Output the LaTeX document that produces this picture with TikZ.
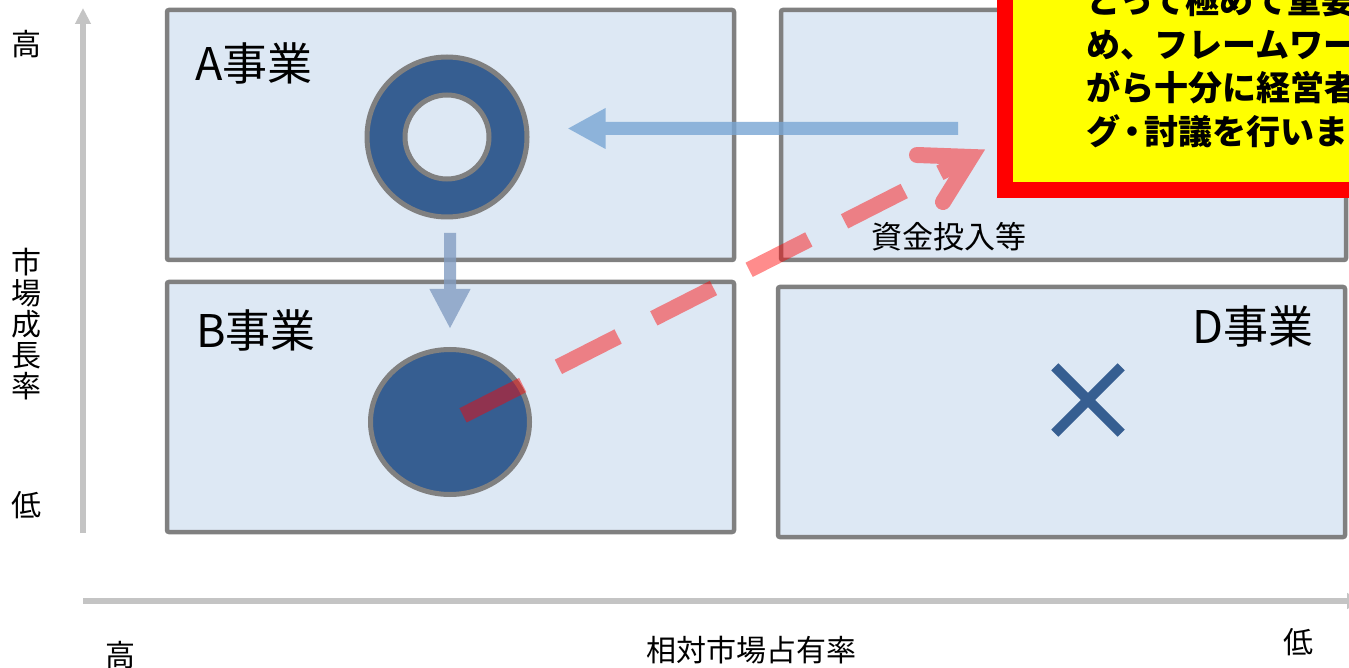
\documentclass[tikz,border=0pt]{standalone}
\usepackage{fontspec}
\newfontfamily\jp{Noto Sans CJK JP}
\usetikzlibrary{arrows.meta,shapes.geometric}
\definecolor{boxfill}{RGB}{221,232,244}
\definecolor{boxline}{RGB}{128,128,128}
\definecolor{dblue}{RGB}{54,94,145}
\definecolor{harrow}{RGB}{121,166,212}
\definecolor{varrow}{RGB}{131,157,194}
\definecolor{axisgray}{RGB}{196,196,196}
\definecolor{noteyellow}{RGB}{255,255,0}
\definecolor{notered}{RGB}{255,0,0}
\definecolor{dashred}{RGB}{255,0,0}
\tikzset{
  quad/.style={draw=boxline, fill=boxfill, line width=4.5pt, rounded corners=2pt, inner sep=0pt, minimum width=567pt, minimum height=250pt},
  lbl/.style={font=\jp\fontsize{45}{50}\selectfont, inner sep=0pt},
  smalllbl/.style={font=\jp\fontsize{31}{34}\selectfont, inner sep=0pt},
  axlbl/.style={font=\jp\fontsize{30}{31}\selectfont, inner sep=0pt},
  axisline/.style={draw=axisgray, line width=5.5pt, -{Triangle[length=16pt,width=15pt]}},
  harr/.style={draw=harrow, line width=13pt, -{Triangle[length=38pt,width=38pt]}},
  varr/.style={draw=varrow, line width=12pt, -{Triangle[length=40pt,width=38pt]}},
  redline/.style={draw=dashred, line width=16pt},
}
\begin{document}
\begin{tikzpicture}[x=1pt,y=-1pt]
\useasboundingbox (0,0) rectangle (1349,668);
\clip (0,0) rectangle (1349,668);
\fill[white] (0,0) rectangle (1349,668);

% quadrants
\node[quad] (A) at (450.5,135) {};
\node[quad] (B) at (450.5,407) {};
\node[quad, minimum width=565pt] (C) at (1063.5,135) {};
\node[quad] (D) at (1061.5,412) {};

% labels
\node[lbl] (Alabel) at (254,63) {A事業};
\node[lbl] (Blabel) at (256,330) {B事業};
\node[lbl] (Dlabel) at (1253,326) {D事業};
\node[smalllbl] (fund) at (949,237) {資金投入等};

% symbols
\node[circle, draw=boxline, line width=5pt, fill=dblue, minimum size=160pt, inner sep=0pt] (ringA) at (447,137) {};
\node[circle, draw=boxline, line width=5pt, fill=boxfill, minimum size=84pt, inner sep=0pt] (ringAin) at (447,137) {};
\node[ellipse, draw=boxline, line width=5pt, fill=dblue, minimum width=159pt, minimum height=145pt, inner sep=0pt] (circB) at (450,422) {};
\node[inner sep=0pt, minimum size=66pt] (xmark) at (1088,400) {};
\draw[dblue, line width=10pt] (xmark.north west) -- (xmark.south east);
\draw[dblue, line width=10pt] (xmark.south west) -- (xmark.north east);

% blue arrows
\coordinate (hs) at (958,128.5);
\begin{scope}[transparency group, opacity=0.8]
\draw[harr, shorten >=38pt] (hs) -- (hs -| ringA.east);
\end{scope}
\coordinate (vs) at (450,233);
\begin{scope}[transparency group, opacity=0.8]
\draw[varr, shorten >=18pt] (vs) -- (vs |- circB.north);
\end{scope}

% red dashed arrow
\coordinate (rtip) at (971,157);
\coordinate (rarm1) at (917,155);
\coordinate (rarm2) at (943,202);
\begin{scope}[transparency group, opacity=0.45]
\draw[redline, dash pattern=on 67pt off 40pt, dash phase=92.4pt] (circB.center) -- (rtip);
\draw[redline, line cap=round, line join=miter, miter limit=10] (rarm1) -- (rtip) -- (rarm2);
\end{scope}

% axes
\coordinate (vaxS) at (83,533);
\coordinate (vaxE) at (83,8);
\draw[axisline] (vaxS) -- (vaxE);
\coordinate (haxS) at (83,601);
\coordinate (haxE) at (1363,601);
\draw[axisline] (haxS) -- (haxE);

\node[axlbl] (yhigh) at (27,44) {高};
\node[axlbl, align=center] (ylab) at (27,324) {市\\場\\成\\長\\率};
\node[axlbl] (ylow) at (27,505) {低};
\node[axlbl] (xhigh) at (120,655) {高};
\node[axlbl] (xlab) at (751,650) {相対市場占有率};
\node[axlbl] (xlow) at (1298,642) {低};

% note box
\node[draw=notered, line width=16pt, fill=noteyellow, minimum width=420pt, minimum height=260pt, inner sep=0pt, outer sep=0pt, anchor=south west] (noteBox) at (1005,190) {};
\node[anchor=west, align=left, inner sep=0pt, font=\jp\bfseries\fontsize{34}{43.5}\selectfont] (noteText) at (1086,66.25)
  {とって極めて重要\\め、フレームワー\\がら十分に経営者\\グ\kern-5pt・\kern-5pt討議を行いま};
\end{tikzpicture}
\end{document}
